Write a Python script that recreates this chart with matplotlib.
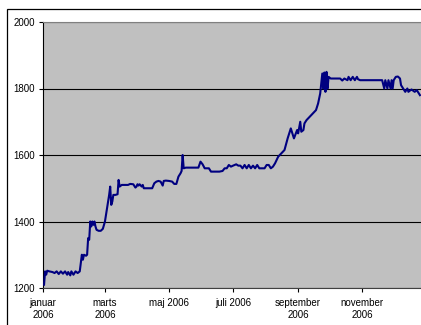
import numpy as np
import pandas as pd
import matplotlib
matplotlib.use("Agg")
import matplotlib.pyplot as plt
import matplotlib.dates as mdates
from matplotlib.patches import Rectangle

plt.rcParams['font.family'] = ['Liberation Sans', 'DejaVu Sans']

# Day of year (0 = 1 Jan 2006) and closing level
days = [1, 2, 3, 4, 6, 9, 11, 13, 15, 17, 19, 21, 23, 24, 26, 27, 29, 31, 33, 35,
        37, 38, 39, 41, 42, 43, 44, 45, 46, 47, 48, 49, 50, 51, 53, 55, 57, 59, 61, 63,
        64, 65, 66, 67, 69, 71, 72, 73, 75, 78, 81, 83, 86, 88, 89, 90, 91, 92, 94, 95,
        96, 98, 100, 104, 106, 108, 110, 112, 114, 115, 117, 120, 123, 125, 127, 129, 131, 132, 133, 134,
        136, 140, 145, 148, 150, 152, 154, 158, 160, 163, 168, 171, 173, 175, 177, 179, 181, 184, 186, 188,
        190, 192, 194, 196, 198, 200, 202, 204, 206, 208, 211, 213, 215, 217, 219, 221, 224, 227, 230, 233,
        236, 238, 239, 242, 243, 245, 246, 248, 249, 251, 254, 257, 260, 262, 264, 266, 267, 268, 269, 270,
        271, 272, 274, 278, 283, 285, 287, 290, 291, 293, 295, 297, 299, 300, 302, 310, 318, 322, 323, 325,
        326, 328, 329, 331, 332, 333, 334, 336, 338, 340, 341, 343, 345, 347, 348, 350, 351, 354, 356, 359]
values = [1210, 1250, 1240, 1252, 1250, 1248, 1245, 1250, 1242, 1250, 1243, 1250, 1240, 1248, 1238, 1250, 1240, 1250, 1245, 1250,
          1300, 1285, 1300, 1297, 1300, 1350, 1345, 1400, 1385, 1400, 1390, 1400, 1385, 1375, 1372, 1372, 1378, 1400, 1440, 1480,
          1505, 1450, 1460, 1480, 1480, 1482, 1525, 1505, 1510, 1510, 1510, 1513, 1512, 1502, 1505, 1512, 1508, 1512, 1505, 1510,
          1500, 1500, 1500, 1500, 1515, 1520, 1522, 1520, 1508, 1522, 1523, 1522, 1520, 1513, 1513, 1535, 1545, 1552, 1600, 1560,
          1562, 1562, 1562, 1562, 1580, 1572, 1560, 1560, 1550, 1550, 1550, 1552, 1560, 1560, 1570, 1565, 1568, 1572, 1568, 1568,
          1560, 1570, 1560, 1570, 1560, 1568, 1560, 1570, 1560, 1560, 1560, 1570, 1570, 1560, 1565, 1575, 1595, 1605, 1615, 1650,
          1680, 1660, 1650, 1675, 1665, 1700, 1670, 1675, 1695, 1705, 1715, 1725, 1735, 1755, 1785, 1845, 1800, 1848, 1790, 1850,
          1800, 1835, 1830, 1830, 1830, 1824, 1830, 1825, 1835, 1825, 1835, 1825, 1835, 1828, 1825, 1825, 1825, 1825, 1825, 1800,
          1825, 1800, 1825, 1800, 1825, 1800, 1825, 1835, 1836, 1830, 1810, 1800, 1790, 1800, 1790, 1795, 1797, 1790, 1795, 1780]

tick_dates = ['2006-01-01', '2006-03-01', '2006-05-01', '2006-07-01', '2006-09-01', '2006-11-01']
tick_labels = ['januar\n2006', 'marts\n2006', 'maj 2006', 'juli 2006', 'september\n2006', 'november\n2006']
y_ticks = [1200, 1400, 1600, 1800, 2000]

start = pd.Timestamp('2006-01-01')
dates = [start + pd.Timedelta(days=d) for d in days]

fig = plt.figure(figsize=(4.21, 3.25), dpi=100)
fig.patch.set_facecolor('white')

# chart border
fig.patches.append(Rectangle((7 / 421, -0.1), 1.2, (325 - 9) / 325 + 0.1,
                             transform=fig.transFigure, fill=False,
                             edgecolor='black', linewidth=0.9))

ax = fig.add_axes([43 / 421, 37 / 325, 1 - 43 / 421, (288 - 22) / 325])
ax.set_facecolor('#C0C0C0')
ax.plot(dates, values, color='#000080', linewidth=1.5, zorder=3)

ax.set_ylim(1200, 2000)
ax.set_yticks(y_ticks)
ax.yaxis.grid(True, color='black', linewidth=0.8)
ax.set_axisbelow(True)

ax.set_xlim(start, start + pd.Timedelta(days=360))
ax.set_xticks([pd.Timestamp(t) for t in tick_dates])
ax.set_xticklabels(tick_labels, linespacing=1.25)

ax.tick_params(axis='both', direction='out', length=3, width=0.8, labelsize=7, color='black')
ax.tick_params(axis='x', pad=4)
ax.tick_params(axis='y', pad=3)

ax.spines['left'].set_color('black')
ax.spines['bottom'].set_color('#404040')
ax.spines['top'].set_color('#808080')
ax.spines['right'].set_visible(False)
for s in ax.spines.values():
    s.set_linewidth(0.8)

fig.savefig('out.png', dpi=100)
